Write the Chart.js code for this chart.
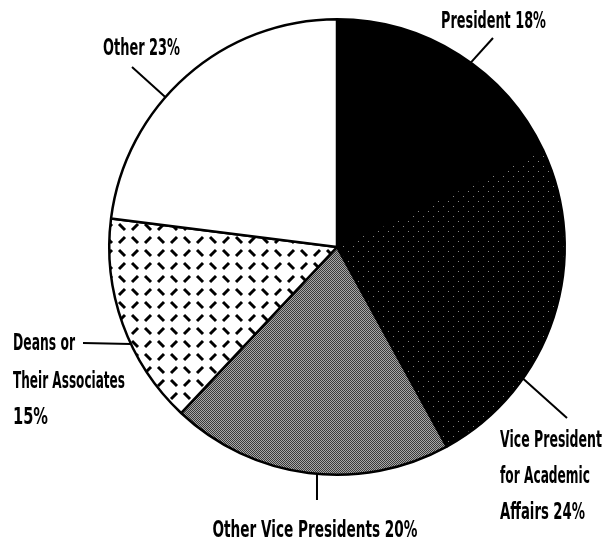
<!DOCTYPE html>
<html>
<head>
<meta charset="utf-8">
<script src="https://cdn.jsdelivr.net/npm/chart.js@4.4.1/dist/chart.umd.min.js"></script>
<style>
  html, body { margin: 0; padding: 0; background: #fff; }
  #wrap { width: 607px; height: 543px; }
</style>
</head>
<body>
<div id="wrap"><canvas id="pieChart" width="607" height="543"></canvas></div>
<script>
// data
const categories = ['President', 'Vice President for Academic Affairs', 'Other Vice Presidents', 'Deans or Their Associates', 'Other'];
const shares = [18, 24, 20, 15, 23];
const labelLines = [
    ['President'],
    ['Vice President', 'for Academic', 'Affairs'],
    ['Other Vice Presidents'],
    ['Deans or', 'Their Associates', ''],
    ['Other']
];

// where each leader line leaves its slice (fraction of the arc), where it ends, and where its text sits
const callouts = [
    { at: 0.555, end: [493, 38], align: 'left', x: 441, y: [28], w: [105] },
    { at: 0.70, end: [567, 418], align: 'left', x: 500, y: [447, 483, 519], w: [102, 90, 85] },
    { at: 0.47, end: [317, 500], align: 'center', x: 315, y: [537], w: [205] },
    { at: 0.40, end: [83, 343], align: 'left', x: 13, y: [350, 388, 424], w: [62, 112, 35] },
    { at: 0.41, end: [132, 67], align: 'left', x: 103, y: [55], w: [77] }
];

function makePattern(size, draw) {
    const c = document.createElement('canvas');
    c.width = size;
    c.height = size;
    const g = c.getContext('2d');
    draw(g, size);
    return g.createPattern(c, 'repeat');
}

const solidBlack = '#000';

// nearly black with a faint speckle
const darkSpeckle = makePattern(10, (g, s) => {
    g.fillStyle = '#000';
    g.fillRect(0, 0, s, s);
    g.fillStyle = '#888';
    g.fillRect(3, 6, 1, 1);
    g.fillRect(8, 1, 1, 1);
});

// mid grey screen
const greyDither = makePattern(2, (g) => {
    g.fillStyle = '#a8a8a8';
    g.fillRect(0, 0, 2, 2);
    g.fillStyle = '#3a3a3a';
    g.fillRect(0, 0, 1, 1);
    g.fillRect(1, 1, 1, 1);
});

// short dashes, alternating direction
const dashPlate = makePattern(26, (g, s) => {
    g.fillStyle = '#fff';
    g.fillRect(0, 0, s, s);
    g.strokeStyle = '#000';
    g.lineWidth = 3;
    const dash = (x1, y1, x2, y2) => { g.beginPath(); g.moveTo(x1, y1); g.lineTo(x2, y2); g.stroke(); };
    dash(2, 3, 8, 9);
    dash(15, 9, 21, 3);
    dash(2, 22, 8, 16);
    dash(15, 16, 21, 22);
});

const leaderPlugin = {
    id: 'leaders',
    afterDraw(chart) {
        const ctx = chart.ctx;
        const arcs = chart.getDatasetMeta(0).data;
        ctx.save();
        ctx.strokeStyle = '#000';
        ctx.fillStyle = '#000';
        ctx.lineWidth = 2;
        ctx.font = "bold 23px 'Liberation Sans Narrow', 'DejaVu Sans Condensed', sans-serif";
        ctx.textBaseline = 'alphabetic';
        arcs.forEach((arc, i) => {
            const p = arc.getProps(['x', 'y', 'startAngle', 'endAngle', 'outerRadius'], true);
            const c = callouts[i];
            const a = p.startAngle + c.at * (p.endAngle - p.startAngle);
            ctx.beginPath();
            ctx.moveTo(p.x + Math.cos(a) * p.outerRadius, p.y + Math.sin(a) * p.outerRadius);
            ctx.lineTo(c.end[0], c.end[1]);
            ctx.stroke();

            const lines = labelLines[i].slice();
            const last = lines.length - 1;
            lines[last] = (lines[last] ? lines[last] + ' ' : '') + shares[i] + '%';
            ctx.textAlign = c.align;
            lines.forEach((t, j) => ctx.fillText(t, c.x, c.y[j], c.w[j]));
        });
        ctx.restore();
    }
};

const ctx = document.getElementById('pieChart').getContext('2d');

new Chart(ctx, {
    type: 'pie',
    data: {
        labels: categories,
        datasets: [
            {
                data: shares,
                backgroundColor: [solidBlack, darkSpeckle, greyDither, dashPlate, '#fff'],
                borderColor: '#000',
                borderWidth: 2.5
            }
        ]
    },
    options: {
        responsive: false,
        animation: false,
        layout: {
            padding: { left: 108, right: 41, top: 18, bottom: 67 }
        },
        plugins: {
            legend: { display: false },
            tooltip: { enabled: false }
        }
    },
    plugins: [leaderPlugin]
});
</script>
</body>
</html>
